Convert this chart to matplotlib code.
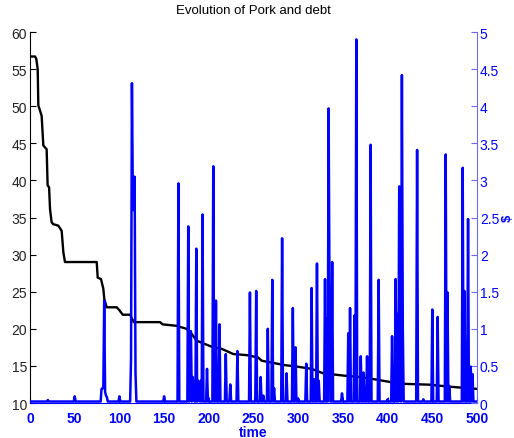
import numpy as np
import matplotlib
matplotlib.use('Agg')
import matplotlib.pyplot as plt

plt.rcParams['font.family'] = ['Liberation Sans', 'DejaVu Sans']

# Pork (left axis): break points of the decreasing staircase
pork_t = [0, 5.6, 7, 8.6, 9.3, 11.2, 13.0, 14.9, 18.6, 19.7, 21.3, 22.4, 24.2, 26,
          31.7, 35.4, 37.3, 39.1, 74.6, 75.7, 79.4, 82.0, 83.1, 85.8, 97, 100,
          103.7, 112, 116, 145.4, 148.4, 164, 175, 181, 186.4, 195.7, 205, 214.4,
          227.4, 242.4, 255, 259.2, 285.2, 296.4, 315.1, 328, 350.4, 369, 387.8,
          413.8, 447, 469.4, 500]
pork_v = [56.7, 56.7, 56.4, 55.0, 50.1, 49.4, 48.7, 44.7, 44.2, 39.3, 39.1, 36.1, 34.35, 34.1,
          33.9, 33.2, 30.3, 29.0, 29.0, 26.9, 26.7, 25.4, 24.0, 22.9, 22.9, 22.5,
          21.9, 21.9, 20.9, 20.9, 20.6, 20.4, 20.0, 19.3, 18.4, 17.95, 17.5, 17.3,
          16.6, 16.45, 16.15, 15.7, 15.1, 14.95, 14.6, 14.0, 13.7, 13.5, 13.15,
          12.6, 12.47, 12.2, 11.9]

# Debt (right axis): spikes on a near-zero baseline
time = np.arange(0, 501)
debt_baseline = 0.02
spike_t = [20, 50, 80, 81, 82, 83, 84, 85, 86, 100, 113, 114, 115, 116, 117, 118, 150,
           166, 177, 179, 180, 182, 183, 186, 188, 189, 191, 193, 198, 205, 208, 212,
           219, 224, 232, 246, 253, 258, 261, 266, 271, 273, 282, 287, 294, 297, 300,
           309, 315, 318, 321, 323, 330, 332, 334, 335, 338, 349, 356, 358, 363, 365,
           370, 373, 377, 381, 390, 400, 405, 409, 411, 413, 414, 416, 417, 433, 440,
           450, 456, 465, 467, 469, 484, 486, 490, 493, 495]
spike_v = [0.04, 0.09, 0.19, 0.2, 0.2, 1.38, 0.15, 0.1, 0.08, 0.09, 0.6, 4.31, 2.8, 2.6, 3.05, 0.4, 0.09,
           2.96, 2.38, 0.5, 0.97, 0.35, 0.2, 2.08, 0.3, 0.19, 0.3, 2.54, 0.46, 3.19, 1.38, 1.06,
           0.66, 0.25, 0.7, 1.49, 1.51, 0.35, 0.1, 1.0, 1.66, 0.2, 2.22, 0.4, 1.28, 0.75, 0.06,
           0.53, 1.55, 0.32, 1.88, 0.3, 1.67, 1.14, 3.97, 1.5, 1.9, 0.13, 0.94, 1.28, 1.18, 4.9,
           0.63, 0.41, 0.63, 3.48, 1.66, 0.05, 0.9, 1.67, 1.2, 2.92, 2.6, 4.42, 1.0, 3.41, 0.05,
           1.26, 1.16, 3.35, 1.49, 0.23, 3.17, 1.51, 2.48, 0.49, 0.39]

debt = np.full(len(time), debt_baseline)
for t, v in zip(spike_t, spike_v):
    debt[t] = v

blue = '#0000ff'

fig = plt.figure(figsize=(5.14, 4.39), dpi=100)
ax1 = fig.add_axes([0.0584, 0.0797, 0.8696, 0.8451])
ax2 = ax1.twinx()

ax1.plot(pork_t, pork_v, color='black', linewidth=1.7)
ax1.set_xlim(0, 500)
ax1.set_ylim(10, 60)
ax1.set_yticks(np.arange(10, 61, 5))
ax1.set_xticks(np.arange(0, 501, 50))
ax1.tick_params(axis='y', direction='in', length=4, labelsize=10, pad=2,
                colors='black', labelcolor='#222222')
ax1.tick_params(axis='x', direction='in', length=4, labelsize=10, pad=6,
                colors=blue, labelcolor=blue)
for lab in ax1.get_xticklabels():
    lab.set_fontweight('bold')
ax1.spines['top'].set_visible(False)
ax1.spines['right'].set_visible(False)
ax1.spines['bottom'].set_color(blue)
ax1.set_xlabel('time', color=blue, fontweight='bold', fontsize=10, labelpad=0)
ax1.set_title('Evolution of Pork and debt', fontsize=9.5, pad=14)

ax2.plot(time, debt, color=blue, linewidth=1.8)
ax2.set_ylim(0, 5)
ax2.set_yticks(np.arange(0, 5.01, 0.5))
ax2.set_yticklabels(['%g' % v for v in np.arange(0, 5.01, 0.5)])
ax2.tick_params(axis='y', direction='in', length=4, labelsize=10, pad=2,
                colors='#6a6aff', labelcolor=blue)
for s in ['top', 'left', 'bottom']:
    ax2.spines[s].set_visible(False)
ax2.spines['right'].set_color('#6a6aff')
ax2.set_ylabel('$', color=blue, fontweight='bold', fontsize=9.5,
               ha='center', va='center')
ax2.yaxis.set_label_coords(1.07, 0.5)

fig.savefig('out.png', dpi=100)
